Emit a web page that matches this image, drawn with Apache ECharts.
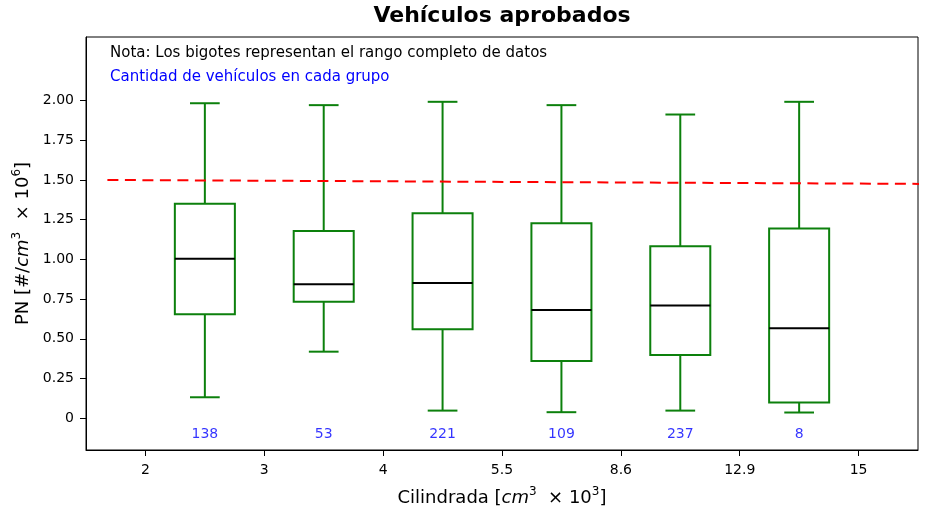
<!DOCTYPE html>
<html>
<head>
<meta charset="utf-8">
<script src="https://cdn.jsdelivr.net/npm/echarts@6/dist/echarts.min.js"></script>
<style>html,body{margin:0;padding:0;background:#fff;}#c{width:930px;height:507px;}</style>
</head>
<body>
<div id="c"></div>
<script>
const xLabels = ['2', '3', '4', '5.5', '8.6', '12.9', '15'];
const boxMin    = [0.132, 0.419, 0.048, 0.038, 0.048, 0.036];
const boxQ1     = [0.654, 0.734, 0.560, 0.360, 0.398, 0.099];
const boxMedian = [1.004, 0.843, 0.851, 0.681, 0.709, 0.566];
const boxQ3     = [1.350, 1.178, 1.291, 1.228, 1.082, 1.195];
const boxMax    = [1.983, 1.971, 1.992, 1.971, 1.912, 1.992];
const counts    = [138, 53, 221, 109, 237, 8];
const yTicks    = [0, 0.25, 0.5, 0.75, 1.0, 1.25, 1.5, 1.75, 2.0];
const limitLine = [[-0.32, 1.5], [6.56, 1.475]];
const countLabelY = -0.1;

const FONT = 'DejaVu Sans';
const GREEN = '#0c800c';
const xTicks = xLabels.map((_, i) => i);
const boxData = boxMin.map((m, i) => [i + 0.5, m, boxQ1[i], boxMedian[i], boxQ3[i], boxMax[i]]);
const countData = counts.map((c, i) => [i + 0.5, countLabelY, c]);

const nameRich = {
  a: { fontFamily: FONT, fontSize: 18, color: '#000', verticalAlign: 'bottom', lineHeight: 21 },
  i: { fontFamily: FONT, fontSize: 18, fontStyle: 'italic', color: '#000', verticalAlign: 'bottom', lineHeight: 21 },
  s: { fontFamily: FONT, fontSize: 12, color: '#000', verticalAlign: 'top', lineHeight: 21 }
};

const chart = echarts.init(document.getElementById('c'));
chart.setOption({
  animation: false,
  backgroundColor: '#fff',
  title: [
    { text: 'Vehículos aprobados', left: 502, top: 5, textAlign: 'center', padding: 0,
      textStyle: { fontFamily: FONT, fontSize: 22, fontWeight: 'bold', color: '#000' } },
    { text: 'Nota: Los bigotes representan el rango completo de datos', left: 110, top: 46, padding: 0,
      textStyle: { fontFamily: FONT, fontSize: 15, fontWeight: 'normal', color: '#000' } },
    { text: 'Cantidad de vehículos en cada grupo', left: 110, top: 70, padding: 0,
      textStyle: { fontFamily: FONT, fontSize: 15, fontWeight: 'normal', color: '#0000ff' } }
  ],
  grid: { left: 86, right: 12, top: 37, bottom: 57, outerBoundsMode: 'none', containLabel: false,
    show: true, borderColor: '#000', borderWidth: 1, backgroundColor: 'transparent' },
  xAxis: {
    type: 'value', min: -0.5, max: 6.5,
    axisLine: { show: true, onZero: false, lineStyle: { color: '#000', width: 1 } },
    axisTick: { show: true, length: 6, lineStyle: { color: '#000', width: 1 }, customValues: xTicks },
    axisLabel: { color: '#000', fontFamily: FONT, fontSize: 14, margin: 13, customValues: xTicks,
      formatter: v => xLabels[Math.round(v)] },
    splitLine: { show: false },
    name: '{a|Cilindrada [}{i|cm}{s|3}{a|  × 10}{s|3}{a|]}', nameLocation: 'middle', nameGap: 36,
    nameTextStyle: { rich: nameRich }
  },
  yAxis: {
    type: 'value', min: -0.2, max: 2.4,
    axisLine: { show: true, onZero: false, lineStyle: { color: '#000', width: 1 } },
    axisTick: { show: true, length: 6, lineStyle: { color: '#000', width: 1 }, customValues: yTicks },
    axisLabel: { color: '#000', fontFamily: FONT, fontSize: 14, margin: 12, customValues: yTicks,
      formatter: v => (v === 0 ? '0' : v.toFixed(2)) },
    splitLine: { show: false },
    name: '{a|PN [#/}{i|cm}{s|3}{a|  × 10}{s|6}{a|]}', nameLocation: 'middle', nameGap: 54, nameRotate: 90,
    nameTextStyle: { rich: nameRich }
  },
  series: [
    {
      type: 'line', data: limitLine, symbol: 'none', clip: false, z: 5,
      lineStyle: { color: '#ff0000', width: 2, type: [11, 6.5] }
    },
    {
      type: 'custom', data: boxData, z: 3,
      encode: { x: 0, y: [1, 2, 3, 4, 5] },
      renderItem: function (params, api) {
        const x = api.value(0);
        const band = api.size([1, 0])[0];
        const bw = band * 0.505, cw = band * 0.25;
        const pMin = api.coord([x, api.value(1)]);
        const pQ1 = api.coord([x, api.value(2)]);
        const pMed = api.coord([x, api.value(3)]);
        const pQ3 = api.coord([x, api.value(4)]);
        const pMax = api.coord([x, api.value(5)]);
        const cx = pMed[0];
        const g = { stroke: GREEN, lineWidth: 2, fill: null };
        return { type: 'group', children: [
          { type: 'line', shape: { x1: cx, y1: pMax[1], x2: cx, y2: pQ3[1] }, style: g },
          { type: 'line', shape: { x1: cx, y1: pQ1[1], x2: cx, y2: pMin[1] }, style: g },
          { type: 'line', shape: { x1: cx - cw / 2, y1: pMax[1], x2: cx + cw / 2, y2: pMax[1] }, style: g },
          { type: 'line', shape: { x1: cx - cw / 2, y1: pMin[1], x2: cx + cw / 2, y2: pMin[1] }, style: g },
          { type: 'rect', shape: { x: cx - bw / 2, y: pQ3[1], width: bw, height: pQ1[1] - pQ3[1] }, style: { stroke: GREEN, lineWidth: 2, fill: 'none' } },
          { type: 'line', shape: { x1: cx - bw / 2, y1: pMed[1], x2: cx + bw / 2, y2: pMed[1] }, style: { stroke: '#000', lineWidth: 2 } }
        ] };
      }
    },
    {
      type: 'scatter', data: countData, symbolSize: 0, z: 4,
      label: { show: true, position: 'inside', formatter: p => String(p.value[2]),
        color: '#0000ff', fontFamily: FONT, fontSize: 14 }
    }
  ]
});
</script>
</body>
</html>
